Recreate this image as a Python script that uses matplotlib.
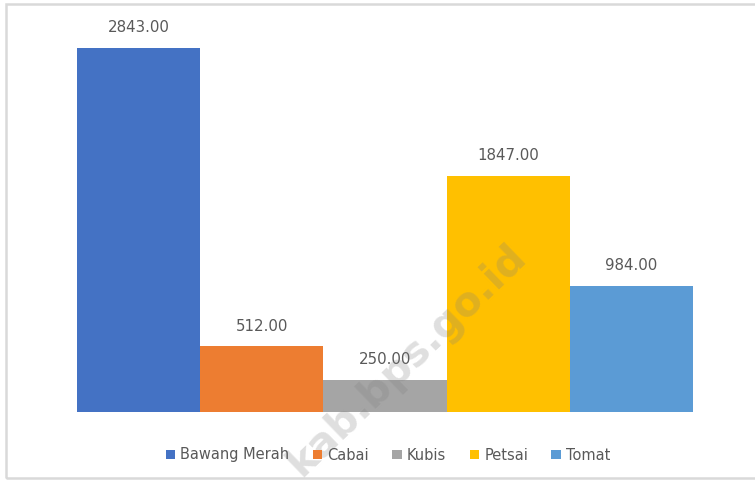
import matplotlib
matplotlib.use("Agg")
import matplotlib.pyplot as plt
from matplotlib.patches import Rectangle, Patch

categories = ["Bawang Merah", "Cabai", "Kubis", "Petsai", "Tomat"]
values = [2843.00, 512.00, 250.00, 1847.00, 984.00]
colors = ["#4472c4", "#ed7d31", "#a5a5a5", "#ffc000", "#5b9bd5"]

text_color = "#595959"

fig = plt.figure(figsize=(7.55, 4.83), dpi=100)
ax = fig.add_axes([77 / 755, 1 - 412 / 483, (693 - 77) / 755, 384 / 483])

x = list(range(len(categories)))
bars = ax.bar(x, values, width=1.0, color=colors, align="edge")

for b, v in zip(bars, values):
    ax.text(b.get_x() + b.get_width() / 2, v + 100, f"{v:.2f}",
            ha="center", va="bottom", fontsize=10.8, color=text_color)

ax.set_xlim(0, len(categories))
ax.set_ylim(0, 3000)
ax.axis("off")

# legend below the bars
handles = [Patch(facecolor=c, edgecolor="none") for c in colors]
fig.legend(handles, categories, loc="center", bbox_to_anchor=(0.514, 1 - 455 / 483),
           ncol=5, frameon=False, fontsize=10.5, labelcolor=text_color,
           handlelength=0.65, handleheight=0.65, handletextpad=0.35,
           columnspacing=1.6)

# light frame around the chart (open on the right)
fig.patches.append(Rectangle((6 / 755, 1 - 478 / 483), 1.1, (478 - 4) / 483,
                             transform=fig.transFigure, fill=False,
                             edgecolor="#d9d9d9", linewidth=1.8))

# watermark
fig.text(407 / 755, 1 - 360 / 483, "kab.bps.go.id", rotation=44,
         ha="center", va="center", fontsize=29.5, fontweight="bold",
         color="#808080", alpha=0.25)

fig.savefig("out.png", dpi=100)
